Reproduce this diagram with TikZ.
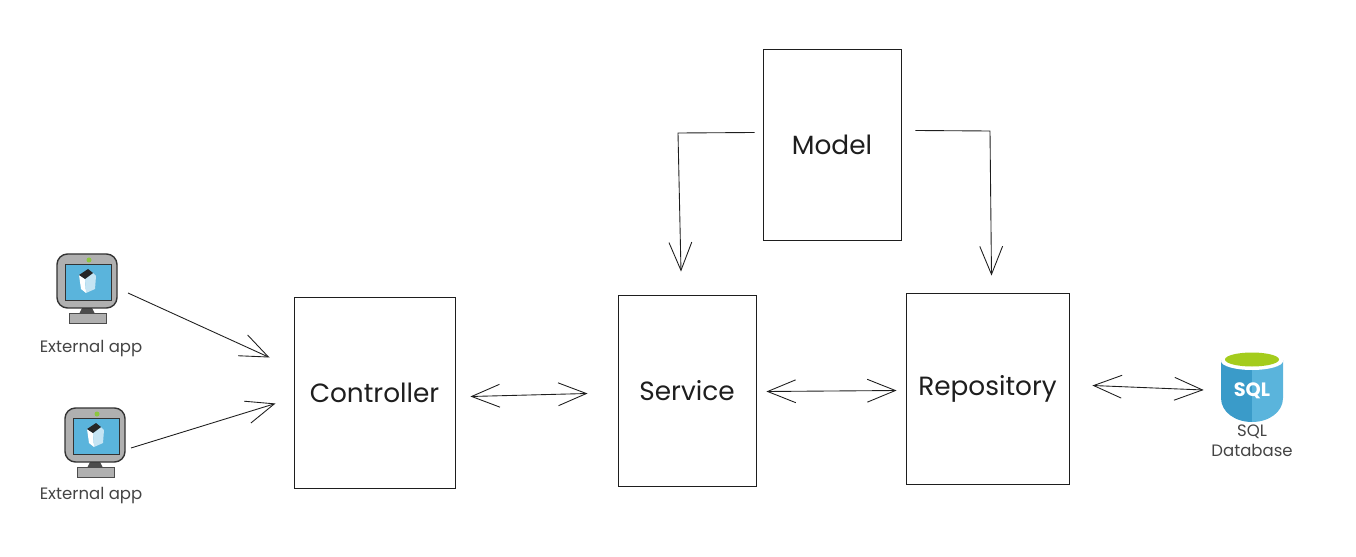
\documentclass[tikz,border=0pt]{standalone}
\usepackage{xcolor}
\usepackage{fontspec}
\setmainfont{Poppins}
\definecolor{sketch-line}{HTML}{1E1E1E}
\definecolor{sketch-label}{HTML}{444444}
\definecolor{monitor-grey}{HTML}{B0B0B0}
\definecolor{screen-blue}{HTML}{5AB4DC}
\definecolor{cube-blue}{HTML}{C5E4F3}
\definecolor{lamp-green}{HTML}{8CC63F}
\definecolor{db-dark}{HTML}{3A9BC9}
\definecolor{db-light}{HTML}{5AB4DC}
\definecolor{db-lid}{HTML}{A4CC1C}
\usepackage{tikz}
\usetikzlibrary{arrows.meta}

\tikzset{
    layer/.style={draw=sketch-line, line width=0.5pt, text=sketch-line, font=\fontsize{15}{18}\selectfont, inner sep=0pt},
    link/.style={draw=sketch-line, line width=0.5pt},
    oneway/.style={link, -{Straight Barb[length=16pt, width=13pt]}},
    twoway/.style={link, {Straight Barb[length=16pt, width=13pt]}-{Straight Barb[length=16pt, width=13pt]}},
    caption/.style={text=sketch-label, font=\fontsize{9.4}{11.5}\selectfont, align=center, inner sep=0pt},
    monitor/.pic={
        % Stand
        \fill[black!70] (-5, 27) -- (5, 27) -- (8, 33) -- (-8, 33) -- cycle;
        \filldraw[fill=monitor-grey, draw=black!70, line width=0.5pt] (-18, 32) rectangle (19, 42);
        % Case
        \filldraw[fill=monitor-grey, draw=black!80, line width=0.8pt, rounded corners=6pt] (-30, -27) rectangle (30, 27);
        \fill[lamp-green] (2, -21) circle (2.5);
        % Screen
        \filldraw[fill=screen-blue, draw=black!80, line width=0.5pt] (-22, -17) rectangle (24, 19);
        % Cube
        \fill[white] (-8, -6) -- (-2, -2) -- (-1, 12) -- (-6, 8) -- cycle;
        \fill[cube-blue] (-2, -2) -- (6, -8) -- (9, -5) -- (8, 8) -- (-1, 12) -- cycle;
        \fill[black!85] (-8, -6) -- (1, -12) -- (6, -8) -- (-2, -2) -- cycle;
    }
}

\begin{document}
\begin{tikzpicture}[x=0.02cm, y=-0.02cm]

    % Canvas
    \useasboundingbox (0, 0) rectangle (1356, 557);

    % Layers
    \node[layer, minimum width=161*0.02cm, minimum height=191*0.02cm] (controller) at (374.5, 392.5) {Controller};
    \node[layer, minimum width=138*0.02cm, minimum height=191*0.02cm] (service) at (687, 390.5) {Service};
    \node[layer, minimum width=163*0.02cm, minimum height=191*0.02cm] (repository) at (987.5, 388.5) {Repository};
    \node[layer, minimum width=138*0.02cm, minimum height=191*0.02cm] (model) at (832, 144.5) {Model};

    % External apps
    \node[minimum width=60*0.02cm, minimum height=54*0.02cm, inner sep=0pt] (appTop) at (87, 281) {};
    \node[minimum width=60*0.02cm, minimum height=54*0.02cm, inner sep=0pt] (appBottom) at (95, 435) {};
    \pic at (appTop) {monitor};
    \pic at (appBottom) {monitor};
    \node[caption] (appTopText) at (91, 349) {External app};
    \node[caption] (appBottomText) at (91, 496) {External app};

    % Database
    \node[minimum width=62*0.02cm, minimum height=70*0.02cm, inner sep=0pt] (database) at (1252, 387) {};
    \fill[db-dark] (1221, 360) -- (1252, 360) -- (1252, 422) .. controls (1235, 422) and (1221, 412) .. (1221, 398) -- cycle;
    \fill[db-light] (1252, 360) -- (1283, 360) -- (1283, 398) .. controls (1283, 412) and (1269, 422) .. (1252, 422) -- cycle;
    \fill[white] (1252, 361) ellipse (31 and 9);
    \fill[db-lid] (1252, 359.5) ellipse (27 and 7);
    \node[text=white, font=\fontsize{11}{13}\selectfont\bfseries, inner sep=0pt] (databaseSql) at (1252, 391) {SQL};
    \node[caption] (databaseText) at (1252, 441) {SQL\\Database};

    % Links
    \draw[oneway] ([shift={(41, 12)}]appTop.center) -- ([shift={(-105, -35)}]controller.center);
    \draw[oneway] ([shift={(36, 13)}]appBottom.center) -- ([shift={(-99, 11)}]controller.center);
    \draw[twoway] ([shift={(15, 4)}]controller.east) -- ([shift={(-30, 3)}]service.west);
    \draw[twoway] ([shift={(10, 1)}]service.east) -- ([shift={(-9, 2)}]repository.west);
    \draw[twoway] ([shift={(23, -3)}]repository.east) -- ([shift={(-17, 3)}]database.west);
    \draw[oneway] ([shift={(-8, -12)}]model.west) -- (678, 133) -- ([shift={(-6, -23)}]service.north);
    \draw[oneway] ([shift={(14, -14)}]model.east) -- (990, 131) -- ([shift={(4, -17)}]repository.north);

\end{tikzpicture}
\end{document}
